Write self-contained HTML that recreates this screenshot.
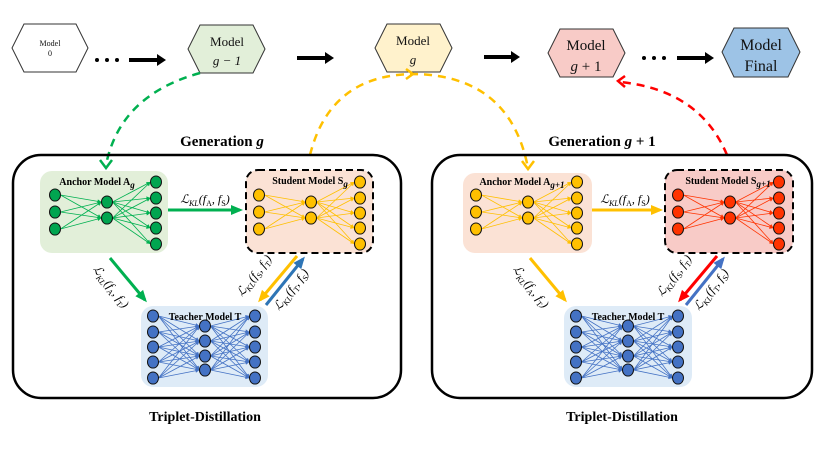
<!DOCTYPE html>
<html><head><meta charset="utf-8"><style>
html,body{margin:0;padding:0;background:#fff;}
svg{display:block;font-family:"Liberation Serif",serif;}
</style></head><body>
<svg id="s" width="831" height="452" viewBox="0 0 831 452" xmlns="http://www.w3.org/2000/svg">
<g stroke="#333" stroke-width="1">
<polygon points="24,24 76,24 88,48 76,72 24,72 12,48" fill="#fff"/>
<polygon points="200,25 253,25 265,49 253,73 200,73 188,49" fill="#e2efd9"/>
<polygon points="387,24 440,24 452,48 440,72 387,72 375,48" fill="#fff2cc"/>
<polygon points="560,29 613,29 625,53 613,77 560,77 548,53" fill="#f8cbc7"/>
<polygon points="734,28 788,28 800,52 788,77 734,77 722,52" fill="#9dc3e6"/>
</g>
<g text-anchor="middle" fill="#111">
<text x="50" y="46" font-size="8">Model</text><text x="50" y="56" font-size="8">0</text>
<text x="227" y="46" font-size="13">Model</text><text x="227" y="65" font-size="13" font-style="italic">g − 1</text>
<text x="413" y="45" font-size="13">Model</text><text x="413" y="64" font-size="13" font-style="italic">g</text>
<text x="586" y="50" font-size="15">Model</text><text x="586" y="71" font-size="15"><tspan font-style="italic">g</tspan> + 1</text>
<text x="761" y="50" font-size="16">Model</text><text x="761" y="71" font-size="16">Final</text>
</g>
<g fill="#000">
<circle cx="97" cy="60" r="2"/><circle cx="107" cy="60" r="2"/><circle cx="117" cy="60" r="2"/>
<circle cx="644" cy="58" r="2"/><circle cx="654" cy="58" r="2"/><circle cx="664" cy="58" r="2"/>
</g>
<g stroke="#000" stroke-width="4">
<line x1="129" y1="60" x2="158" y2="60"/><line x1="297" y1="58" x2="326" y2="58"/>
<line x1="484" y1="57" x2="512" y2="57"/><line x1="677" y1="58" x2="706" y2="58"/>
</g>
<g fill="#000">
<polygon points="157,54 166,60 157,66"/><polygon points="325,52 334,58 325,64"/>
<polygon points="511,51 520,57 511,63"/><polygon points="705,52 714,58 705,64"/>
</g>
<g fill="none" stroke-width="2.5" stroke-dasharray="8,6">
<path d="M200,73 Q120,95 106,165" stroke="#00b050"/>
<path d="M310,155 Q330,75 413,74 Q510,75 528,168" stroke="#ffc000"/>
<path d="M727,155 Q700,90 620,82" stroke="#ff0000"/>
</g>
<path d="M100,160 L106,168 L112,160" fill="none" stroke="#00b050" stroke-width="2.5"/>
<path d="M522,161 L528,169 L534,161" fill="none" stroke="#ffc000" stroke-width="2.5"/>
<path d="M406,69 L413,74 L406,79" fill="none" stroke="#ffc000" stroke-width="2.5"/>
<path d="M625,76 L618,81 L625,87" fill="none" stroke="#ff0000" stroke-width="2.5"/>
<text x="222" y="146" font-size="15" font-weight="bold" text-anchor="middle">Generation <tspan font-style="italic">g</tspan></text>
<text x="602" y="146" font-size="15" font-weight="bold" text-anchor="middle">Generation <tspan font-style="italic">g</tspan> + 1</text>
<rect x="13" y="155" width="388" height="243" rx="28" fill="none" stroke="#000" stroke-width="2.5"/>
<rect x="432" y="155" width="380" height="243" rx="28" fill="none" stroke="#000" stroke-width="2.5"/>
<text x="205" y="421" font-size="14" font-weight="bold" text-anchor="middle">Triplet-Distillation</text>
<text x="622" y="421" font-size="14" font-weight="bold" text-anchor="middle">Triplet-Distillation</text>
</svg>
<script>
const NS="http://www.w3.org/2000/svg";
const svg=document.getElementById('s');
function el(t,a,p){const e=document.createElementNS(NS,t);for(const k in a)e.setAttribute(k,a[k]);(p||svg).appendChild(e);return e;}
function box(x,y,w,h,fill,dashed){el('rect',{x,y,width:w,height:h,rx:12,fill,stroke:dashed?'#000':'none','stroke-width':2,'stroke-dasharray':dashed?'7,4':''});}
function net(cols,ncol,lcol,r){
  for(let i=0;i<cols.length-1;i++){
    for(const a of cols[i].ys)for(const b of cols[i+1].ys){
      const x1=cols[i].x+r,x2=cols[i+1].x-r;
      el('line',{x1,y1:a,x2,y2:b,stroke:lcol,'stroke-width':0.8});
      const an=Math.atan2(b-a,x2-x1),L=4,W=2;
      el('polygon',{points:`${x2},${b} ${x2-L*Math.cos(an)+W*Math.sin(an)},${b-L*Math.sin(an)-W*Math.cos(an)} ${x2-L*Math.cos(an)-W*Math.sin(an)},${b-L*Math.sin(an)+W*Math.cos(an)}`,fill:lcol});
    }
  }
  for(const c of cols)for(const y of c.ys)el('ellipse',{cx:c.x,cy:y,rx:r,ry:r*1.1,fill:ncol,stroke:'#111','stroke-width':1});
}
function small(x0){return [{x:x0,ys:[195,212,229]},{x:x0+52,ys:[202,218]},{x:x0+101,ys:[182,198,213,228,244]}];}
function teacher(x0){return [{x:x0,ys:[316,332,347,362,378]},{x:x0+52,ys:[326,341,356,370]},{x:x0+102,ys:[316,332,347,362,378]}];}
box(40,171,128,82,'#e2efd9');box(246,170,127,83,'#fbe2d5',true);box(141,306,127,81,'#deebf7');
net(small(55),'#00a550','#00b050',5.5);
net(small(259),'#ffc000','#ffc000',5.5);
net(teacher(153),'#4472c4','#4472c4',5.5);
box(463,173,129,80,'#fbe2d5');box(665,170,128,83,'#f8cbc7',true);box(564,306,128,81,'#deebf7');
net(small(476),'#ffc000','#ffc000',5.5);
net(small(678),'#ff3300','#ff3300',5.5);
net(teacher(576),'#4472c4','#4472c4',5.5);
function arrow(x1,y1,x2,y2,c){
  el('line',{x1,y1,x2,y2,stroke:c,'stroke-width':3});
  const a=Math.atan2(y2-y1,x2-x1),L=9,W=5;
  const p=[[x2+3*Math.cos(a),y2+3*Math.sin(a)],[x2-L*Math.cos(a)+W*Math.sin(a),y2-L*Math.sin(a)-W*Math.cos(a)],[x2-L*Math.cos(a)-W*Math.sin(a),y2-L*Math.sin(a)+W*Math.cos(a)]];
  el('polygon',{points:p.map(q=>q.join(',')).join(' '),fill:c});
}
function txt(x,y,s,size){const t=el('text',{x,y,'font-size':size,'text-anchor':'middle','font-weight':'bold'});t.innerHTML=s;}
function lab(x,y,s,rot){const t=el('text',{x,y,'font-size':12,'text-anchor':'middle','font-style':'italic',transform:rot?`rotate(${rot} ${x} ${y})`:''});t.innerHTML=s;}
arrow(168,210,240,210,'#00b050');arrow(110,258,145,300,'#00b050');
arrow(297,256,260,300,'#ffc000');arrow(266,305,303,259,'#2e75b6');
arrow(592,210,660,210,'#ffc000');arrow(530,258,565,300,'#ffc000');
arrow(717,256,680,300,'#ff0000');arrow(686,305,723,259,'#4472c4');
function L(a,b){return 'ℒ<tspan font-size="8" dy="3">KL</tspan><tspan dy="-3">(f</tspan><tspan font-size="8" dy="3" font-style="normal">'+a+'</tspan><tspan dy="-3">, f</tspan><tspan font-size="8" dy="3" font-style="normal">'+b+'</tspan><tspan dy="-3">)</tspan>';}
for(const dx of [0,420]){
  lab(205+dx,203,L('A','S'),0);
  lab(108+dx,289,L('A','T'),52);
  lab(257+dx,278,L('S','T'),-52);
  lab(294+dx,292,L('T','S'),-52);
}
txt(97,185,'Anchor Model A<tspan font-size="9" dy="3" font-style="italic">g</tspan>',10);
txt(310,184,'Student Model S<tspan font-size="9" dy="3" font-style="italic">g</tspan>',10);
txt(205,320,'Teacher Model T',10);
txt(522,185,'Anchor Model A<tspan font-size="9" dy="3" font-style="italic">g+1</tspan>',10);
txt(728,184,'Student Model S<tspan font-size="9" dy="3" font-style="italic">g+1</tspan>',10);
txt(628,320,'Teacher Model T',10);
</script>
</body></html>
